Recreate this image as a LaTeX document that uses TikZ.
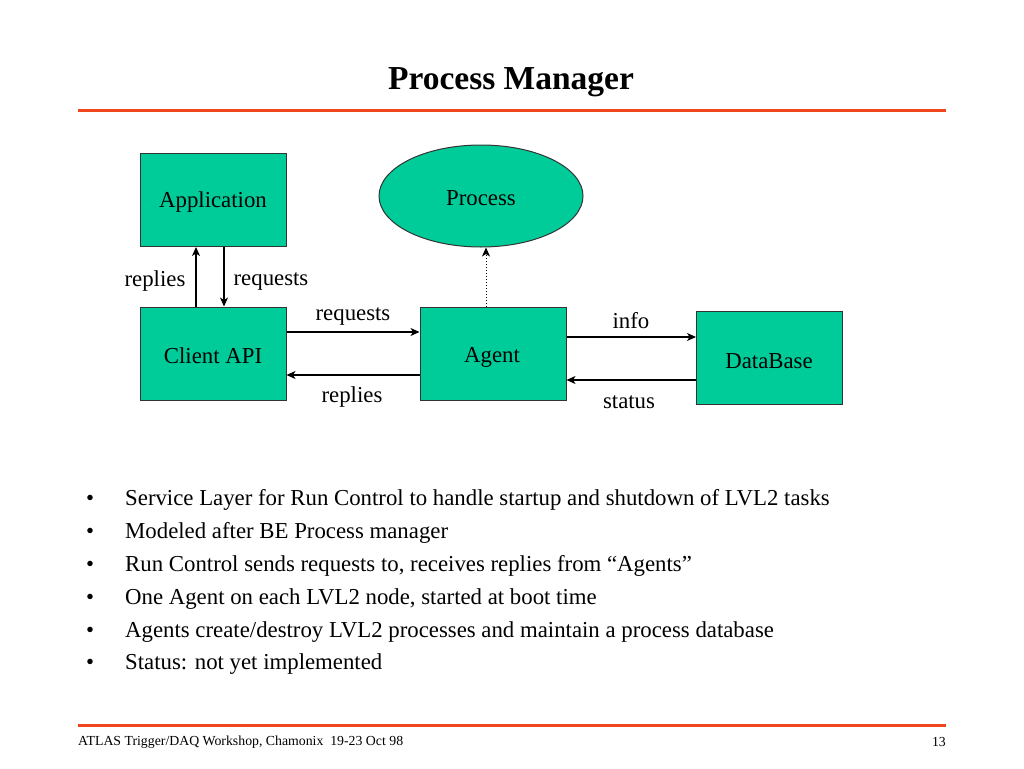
\documentclass[tikz,border=0pt]{standalone}
\usepackage{fontspec}
\setmainfont{Liberation Serif}
\usetikzlibrary{shapes.geometric,arrows.meta}
\definecolor{teal1}{RGB}{0,204,153}
\definecolor{rule1}{RGB}{240,70,30}
\begin{document}
\begin{tikzpicture}[x=1pt,y=-1pt,
  box/.style={draw=black!80,fill=teal1,line width=1pt,minimum width=146pt,minimum height=93pt,inner sep=0pt},
  oval/.style={ellipse,draw=black!80,fill=teal1,line width=1pt,minimum width=204pt,minimum height=102pt,inner sep=0pt},
  lab/.style={font=\fontsize{22.8}{26}\selectfont,inner sep=0pt},
  conn/.style={line width=1.2pt,-{Stealth[length=9pt,width=8pt,inset=2.5pt]}},
  bul/.style={font=\fontsize{22.8}{26}\selectfont,anchor=west,inner sep=0pt},
  rulel/.style={draw=rule1,line width=3pt}]
\useasboundingbox[fill=white] (0,0) rectangle (1024,768);
% title
\node[font=\fontsize{33.5}{38}\bfseries,inner sep=0pt] (title) at (511,82) {Process Manager};
\coordinate (r1a) at (78,110); \coordinate (r1b) at (946,110);
\draw[rulel] (r1a) -- (r1b);
% nodes
\node[box] (app) at (213,200) {};
\node[lab] (appt) at (213,202) {Application};
\node[oval] (proc) at (481,196) {};
\node[lab] (proct) at (481,198) {Process};
\node[box] (client) at (213,353.5) {};
\node[lab] (clientt) at (213,356) {Client API};
\node[box] (agent) at (493,353.5) {};
\node[lab] (agentt) at (492,357) {Agent};
\node[box] (db) at (769.5,358) {};
\node[lab] (dbt) at (769,361) {DataBase};
% connectors
\draw[conn] ([xshift=-17pt]client.north) -- ([xshift=-17pt]app.south);
\draw[conn] ([xshift=11pt]app.south) -- ([xshift=11pt]client.north);
\draw[conn] ([yshift=21.5pt]client.east) -- ([yshift=21.5pt]agent.west);
\draw[conn] ([yshift=-21.5pt]agent.west) -- ([yshift=-21.5pt]client.east);
\draw[conn] ([yshift=16.5pt]agent.east) -- ([yshift=16.5pt]agent.east -| db.west);
\draw[conn] ([yshift=-26.5pt]agent.east -| db.west) -- ([yshift=-26.5pt]agent.east);
\draw[line width=1pt,dotted,-{Stealth[length=9pt,width=8pt,inset=2.5pt]}] ([xshift=-7pt]agent.north) -- ([xshift=-7pt]agent.north |- proc.south);
% labels
\node[lab] (l1) at (155,281) {replies};
\node[lab] (l2) at (271,282) {requests};
\node[lab] (l3) at (353,317) {requests};
\node[lab] (l4) at (352,397) {replies};
\node[lab] (l5) at (631,321) {info};
\node[lab] (l6) at (629,402) {status};
% bullets
\foreach \y/\t [count=\i] in {498/{Service Layer for Run Control to handle startup and shutdown of LVL2 tasks},
  531/{Modeled after BE Process manager},
  564/{Run Control sends requests to, receives replies from “Agents”},
  597/{One Agent on each LVL2 node, started at boot time},
  630/{Agents create/destroy LVL2 processes and maintain a process database},
  662/{Status: not yet implemented}}{
  \node[bul] (b\i) at (86,\y+2) {•};
  \node[bul] (t\i) at (125,\y+2) {\t};
}
% footer
\coordinate (r2a) at (78,725); \coordinate (r2b) at (946,725);
\draw[rulel] (r2a) -- (r2b);
\node[font=\fontsize{13.8}{16}\selectfont,anchor=west,inner sep=0pt] (foot) at (78,742) {ATLAS Trigger/DAQ Workshop, Chamonix\ \ 19-23 Oct 98};
\node[font=\fontsize{13.8}{16}\selectfont,anchor=east,inner sep=0pt] (page) at (946,742) {13};
\end{tikzpicture}
\end{document}
